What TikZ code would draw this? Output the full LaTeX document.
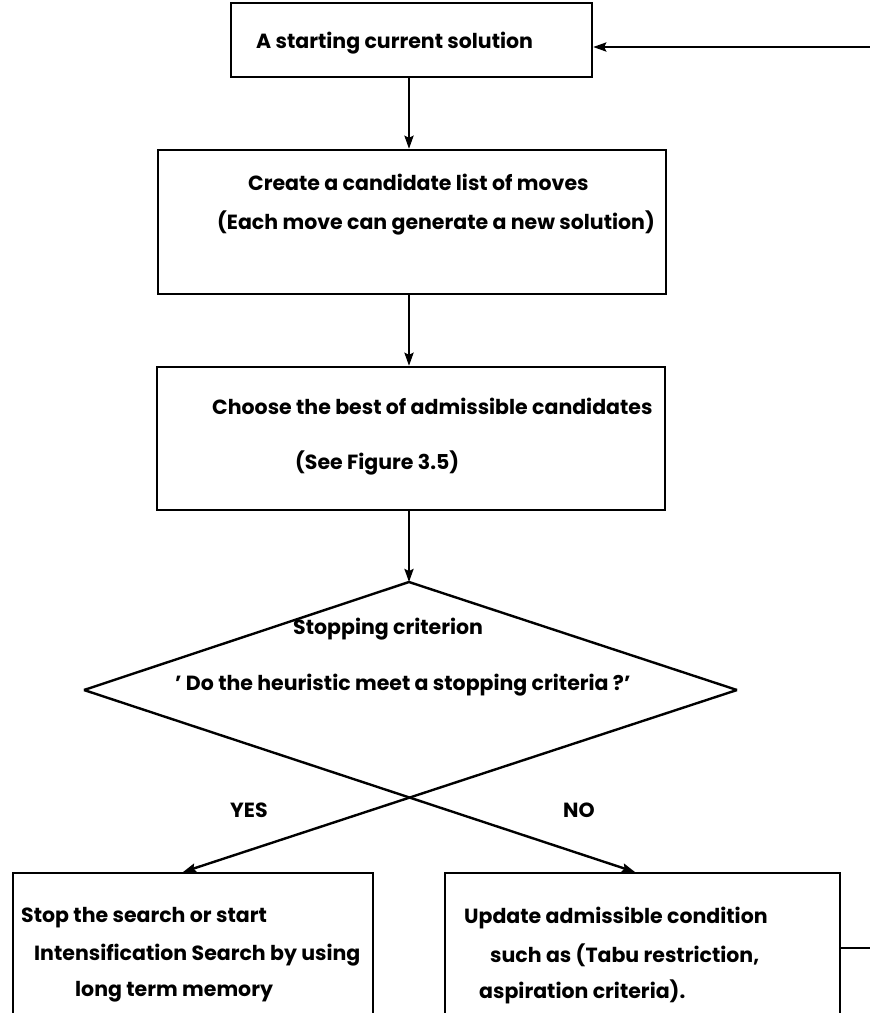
\documentclass[tikz,border=0pt]{standalone}
\usepackage{fontspec}
\setmainfont{Poppins}
\usetikzlibrary{arrows.meta,calc}

\begin{document}
\begin{tikzpicture}[
	x=1pt, y=-1pt,
	procbox/.style={draw, line width=2.4pt, inner sep=0pt},
	txt/.style={anchor=west, inner sep=0pt, font=\bfseries\fontsize{20.5}{24}\selectfont},
	flow/.style={line width=2.4pt, -{Stealth[length=13pt,width=9pt,inset=2pt]}},
	plain/.style={line width=2.4pt}
	]
	\useasboundingbox (0,0) rectangle (870,1013);

	% boxes
	\node[procbox, minimum width=361pt, minimum height=74pt] (start) at (411.5,40) {};
	\node[procbox, minimum width=508pt, minimum height=144pt] (cand) at (412,222) {};
	\node[procbox, minimum width=508pt, minimum height=143pt] (choose) at (411,438.5) {};
	\node[procbox, anchor=north west, minimum width=360pt, minimum height=200pt] (stop) at (12,872) {};
	\node[procbox, anchor=north west, minimum width=395pt, minimum height=200pt] (update) at (444,872) {};

	% decision
	\coordinate (dtop) at (409,582);
	\coordinate (dleft) at (84,690);
	\coordinate (dright) at (737,690);
	\coordinate (yesin) at (183,872);
	\coordinate (noin) at (635,872);
	\coordinate (back) at (870,47);
	\coordinate (loop) at (870,948);

	% texts
	\node[txt] (t1) at (256,43) {A starting current solution};
	\node[txt] (t2) at (248,182) {Create a candidate list of moves};
	\node[txt] (t3) at (217,223) {(Each move can generate a new solution)};
	\node[txt] (t4) at (212,406) {Choose the best of admissible candidates};
	\node[txt] (t5) at (295,463) {(See Figure 3.5)};
	\node[txt] (t6) at (293,629) {Stopping criterion};
	\node[txt] (t7) at (175,685) {' Do the heuristic meet a stopping criteria ?'};
	\node[txt] (yes) at (230,810) {YES};
	\node[txt] (no) at (563,810) {NO};
	\node[txt] (s1) at (21,918) {Stop the search or start};
	\node[txt] (s2) at (34,955) {Intensification Search by using};
	\node[txt] (s3) at (75,992) {long term memory};
	\node[txt] (u1) at (464,918) {Update admissible condition};
	\node[txt] (u2) at (490,955) {such as (Tabu restriction,};
	\node[txt] (u3) at (479,992) {aspiration criteria).};

	% connectors
	\draw[flow] (start.south -| dtop) -- (cand.north -| dtop);
	\draw[flow] (cand.south -| dtop) -- (choose.north -| dtop);
	\draw[flow] (choose.south -| dtop) -- (dtop);
	\draw[plain] (dleft) -- (dtop) -- (dright);
	\draw[flow] (dleft) -- (noin);
	\draw[flow] (dright) -- (yesin);
	\draw[flow] (back) -- (back -| start.east);
	\draw[plain] (update.east |- loop) -- (loop);
\end{tikzpicture}
\end{document}
